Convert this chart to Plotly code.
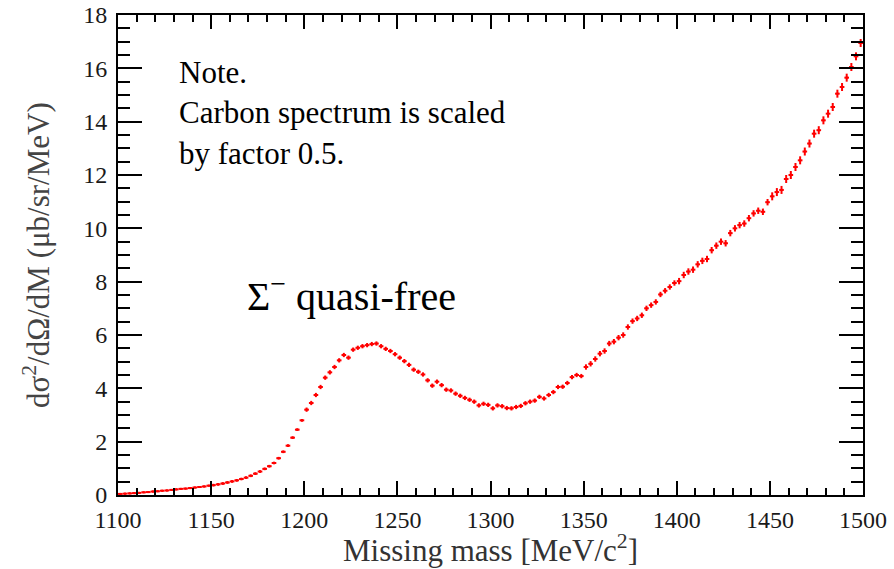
import plotly.graph_objects as go

# Bin centres (2.5 MeV bins) from 1100 to 1500 MeV/c^2
bin_width = 2.5
mass = [1100 + bin_width * (i + 0.5) for i in range(160)]

# Cross-section values (ub/sr/MeV), 4 bins per 10 MeV
xsec = [
    0.04, 0.05, 0.06, 0.07,   # 1100-1110
    0.08, 0.10, 0.11, 0.13,   # 1110-1120
    0.14, 0.16, 0.17, 0.19,   # 1120-1130
    0.21, 0.23, 0.24, 0.26,   # 1130-1140
    0.28, 0.30, 0.32, 0.35,   # 1140-1150
    0.37, 0.40, 0.43, 0.47,   # 1150-1160
    0.51, 0.55, 0.60, 0.65,   # 1160-1170
    0.72, 0.80, 0.88, 0.98,   # 1170-1180
    1.08, 1.20, 1.38, 1.62,   # 1180-1190
    1.85, 2.15, 2.45, 2.80,   # 1190-1200
    3.20, 3.45, 3.75, 4.05,   # 1200-1210
    4.40, 4.60, 4.80, 5.05,   # 1210-1220
    5.25, 5.15, 5.45, 5.52,   # 1220-1230
    5.58, 5.62, 5.66, 5.68,   # 1230-1240
    5.58, 5.48, 5.40, 5.28,   # 1240-1250
    5.15, 5.02, 4.88, 4.70,   # 1250-1260
    4.62, 4.52, 4.30, 4.10,   # 1260-1270
    4.25, 4.12, 3.95, 3.92,   # 1270-1280
    3.80, 3.72, 3.64, 3.57,   # 1280-1290
    3.50, 3.36, 3.42, 3.38,   # 1290-1300
    3.25, 3.36, 3.33, 3.26,   # 1300-1310
    3.25, 3.30, 3.34, 3.44,   # 1310-1320
    3.50, 3.54, 3.68, 3.62,   # 1320-1330
    3.75, 3.86, 4.05, 4.06,   # 1330-1340
    4.20, 4.42, 4.50, 4.46,   # 1340-1350
    4.80, 4.92, 5.10, 5.30,   # 1350-1360
    5.40, 5.68, 5.75, 5.90,   # 1360-1370
    6.00, 6.30, 6.52, 6.62,   # 1370-1380
    6.74, 7.00, 7.12, 7.24,   # 1380-1390
    7.52, 7.66, 7.80, 7.95,   # 1390-1400
    8.02, 8.25, 8.38, 8.45,   # 1400-1410
    8.65, 8.78, 8.85, 9.18,   # 1410-1420
    9.35, 9.50, 9.44, 9.82,   # 1420-1430
    10.00, 10.12, 10.18, 10.38,  # 1430-1440
    10.56, 10.66, 10.62, 10.98,  # 1440-1450
    11.20, 11.36, 11.44, 11.85,  # 1450-1460
    12.00, 12.30, 12.55, 12.88,  # 1460-1470
    13.18, 13.55, 13.68, 14.05,  # 1470-1480
    14.30, 14.55, 15.05, 15.30,  # 1480-1490
    15.65, 16.05, 16.45, 16.95,  # 1490-1500
]

# Statistical error per 50 MeV segment (estimated from the cross heights)
segment_errors = [0.03, 0.05, 0.08, 0.08, 0.08, 0.10, 0.12, 0.15]
yerr = [segment_errors[i // 20] for i in range(len(mass))]

x_ticks = [1100, 1150, 1200, 1250, 1300, 1350, 1400, 1450, 1500]
y_ticks = [0, 2, 4, 6, 8, 10, 12, 14, 16, 18]

RED = "#ff0000"
SERIF = "Liberation Serif"

fig = go.Figure()
fig.add_trace(go.Scatter(
    x=mass, y=xsec,
    mode="markers",
    marker=dict(symbol="square", size=2, color=RED),
    error_x=dict(type="constant", value=bin_width / 2, color=RED, thickness=2, width=0),
    error_y=dict(type="data", array=yerr, color=RED, thickness=2, width=0),
    showlegend=False,
    cliponaxis=True,
))

axis_common = dict(
    showline=True, linecolor="black", linewidth=2,
    mirror="ticks", ticks="inside", tickcolor="black", tickwidth=2,
    showgrid=False, zeroline=False, automargin=False,
    tickfont=dict(family=SERIF, size=24, color="#1a1a1a"),
)

fig.update_xaxes(
    range=[1100, 1500], tickvals=x_ticks, ticklen=14, ticklabelstandoff=2,
    minor=dict(ticks="inside", dtick=10, ticklen=7, tickwidth=2, tickcolor="black"),
    **axis_common,
)
fig.update_yaxes(
    range=[0, 18], tickvals=y_ticks, ticklen=24, ticklabelstandoff=4,
    minor=dict(ticks="inside", dtick=0.5, ticklen=12, tickwidth=2, tickcolor="black"),
    **axis_common,
)

fig.add_annotation(
    text="Missing mass [MeV/c<sup>2</sup>]",
    xref="paper", yref="paper", x=0.5, y=-0.112,
    xanchor="center", yanchor="middle", showarrow=False,
    font=dict(family=SERIF, size=31, color="#333333"),
)
fig.add_annotation(
    text="dσ<sup>2</sup>/dΩ/dM (μb/sr/MeV)",
    xref="paper", yref="paper", x=(36 - 118) / 745, y=0.5,
    xanchor="center", yanchor="middle", textangle=-90, showarrow=False,
    font=dict(family=SERIF, size=31, color="#444444"),
)
fig.add_annotation(
    text="Note.<br>Carbon spectrum is scaled<br>by factor 0.5.",
    xref="paper", yref="paper", x=(177 - 118) / 745, y=(495 - 113) / 480,
    xanchor="left", yanchor="middle", align="left", showarrow=False,
    font=dict(family=SERIF, size=31, color="black"),
)
fig.add_annotation(
    text="Σ<sup>−</sup> quasi-free",
    xref="paper", yref="paper", x=(245 - 118) / 745, y=(495 - 293) / 480,
    xanchor="left", yanchor="middle", showarrow=False,
    font=dict(family=SERIF, size=40, color="black"),
)

fig.update_layout(
    width=894, height=569,
    margin=dict(l=118, r=31, t=15, b=74, autoexpand=False),
    plot_bgcolor="white", paper_bgcolor="white",
)

fig.write_html(
    "out.html",
    config={"displayModeBar": False},
    post_script="document.body.style.margin='0px';document.body.style.overflow='hidden';",
)
